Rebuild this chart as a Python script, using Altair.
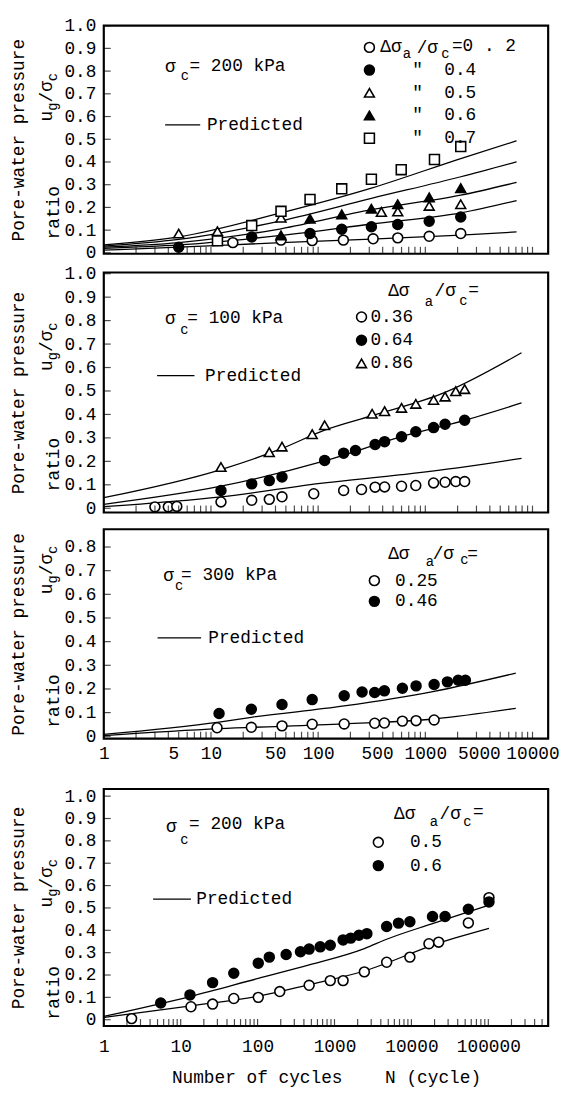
import altair as alt
import pandas as pd

FONT = "Liberation Mono"
FS = 18
SUB = 14
CW = 0.6 * FS

# ---------------- Panel 1 : sigma_c = 200 kPa ----------------
p1_order = ["0.2", "0.4", "0.5", "0.6", "0.7"]
p1_s02_N = [16, 45, 88, 172, 326, 553, 1087, 2140]
p1_s02_u = [0.045, 0.056, 0.054, 0.056, 0.062, 0.066, 0.073, 0.085]
p1_s04_N = [5, 24, 84, 166, 314, 553, 1087, 2140]
p1_s04_u = [0.025, 0.07, 0.085, 0.104, 0.115, 0.125, 0.139, 0.158]
p1_s05_N = [5, 11.5, 45, 389, 553, 1087, 2140]
p1_s05_u = [0.085, 0.095, 0.155, 0.18, 0.182, 0.207, 0.214]
p1_s06_N = [45, 84, 166, 314, 553, 1087, 2140]
p1_s06_u = [0.077, 0.15, 0.169, 0.194, 0.214, 0.244, 0.285]
p1_s07_N = [11.5, 24, 45, 84, 166, 314, 596, 1217, 2140]
p1_s07_u = [0.053, 0.12, 0.183, 0.235, 0.282, 0.324, 0.366, 0.411, 0.468]
p1_line_N = [1, 5, 45, 314, 2140, 7100]
p1_line07_u = [0.035, 0.07, 0.176, 0.285, 0.415, 0.493]
p1_line06_u = [0.03, 0.059, 0.141, 0.24, 0.335, 0.401]
p1_line05_u = [0.025, 0.045, 0.106, 0.19, 0.254, 0.31]
p1_line04_u = [0.02, 0.035, 0.077, 0.127, 0.176, 0.23]
p1_line02_u = [0.012, 0.025, 0.045, 0.06, 0.078, 0.092]

# ---------------- Panel 2 : sigma_c = 100 kPa ----------------
p2_order = ["0.36", "0.64", "0.86"]
p2_s036_N = [3, 4, 4.8, 12.4, 24, 35, 46, 91, 173, 254, 340, 417, 600, 815, 1194, 1528, 1923, 2328]
p2_s036_u = [0.006, 0.006, 0.008, 0.027, 0.034, 0.038, 0.049, 0.062, 0.076, 0.08, 0.09, 0.091, 0.094, 0.097, 0.108, 0.111, 0.114, 0.114]
p2_s064_N = [12.4, 24, 35, 46, 115, 173, 223, 340, 417, 600, 815, 1194, 1528, 2328]
p2_s064_u = [0.076, 0.104, 0.118, 0.133, 0.204, 0.235, 0.246, 0.272, 0.284, 0.305, 0.326, 0.344, 0.358, 0.375]
p2_s086_N = [12.4, 35, 46, 88, 115, 319, 417, 600, 815, 1194, 1528, 1923, 2328]
p2_s086_u = [0.176, 0.239, 0.263, 0.316, 0.354, 0.403, 0.414, 0.428, 0.445, 0.462, 0.476, 0.499, 0.508]
p2_line086_N = [1, 12.4, 46, 115, 319, 1528, 7900]
p2_line086_u = [0.045, 0.165, 0.255, 0.333, 0.395, 0.494, 0.663]
p2_line_N = [1, 12.4, 115, 600, 2328, 7900]
p2_line064_u = [0.017, 0.094, 0.202, 0.305, 0.375, 0.449]
p2_line036_u = [0.007, 0.049, 0.108, 0.143, 0.176, 0.213]

# ---------------- Panel 3 : sigma_c = 300 kPa ----------------
p3_order = ["0.25", "0.46"]
p3_s025_N = [11.4, 23.8, 46, 88, 175, 337, 415, 611, 820, 1208]
p3_s025_u = [0.036, 0.038, 0.044, 0.051, 0.052, 0.055, 0.056, 0.064, 0.066, 0.069]
p3_s046_N = [11.9, 23.8, 46, 88, 175, 257, 337, 415, 611, 820, 1208, 1607, 2027, 2366]
p3_s046_u = [0.096, 0.114, 0.134, 0.155, 0.171, 0.187, 0.185, 0.192, 0.203, 0.213, 0.219, 0.23, 0.237, 0.237]
p3_line046_N = [1, 11.9, 23.8, 175, 1208, 6980]
p3_line046_u = [0.008, 0.06, 0.08, 0.128, 0.19, 0.267]
p3_line025_N = [1, 11.9, 175, 1208, 6980]
p3_line025_u = [0.003, 0.032, 0.052, 0.073, 0.118]

# ---------------- Panel 4 : sigma_c = 200 kPa (long test) ----------------
p4_order = ["0.5", "0.6"]
p4_s05_N = [2.3, 13.6, 26, 49, 102, 194, 468, 881, 1294, 2443, 4764, 9550, 16900, 22600, 55000, 102000]
p4_s05_u = [0.005, 0.058, 0.07, 0.095, 0.1, 0.126, 0.154, 0.175, 0.175, 0.214, 0.257, 0.28, 0.34, 0.347, 0.433, 0.546]
p4_s06_N = [5.5, 13.2, 26, 49, 102, 142, 235, 361, 468, 652, 881, 1294, 1627, 2080, 2636, 4764, 6790, 9550, 18800, 27400, 55000, 102000]
p4_s06_u = [0.075, 0.111, 0.166, 0.208, 0.253, 0.28, 0.292, 0.304, 0.316, 0.326, 0.333, 0.357, 0.365, 0.378, 0.385, 0.417, 0.432, 0.438, 0.462, 0.462, 0.494, 0.527]
p4_line06_N = [1, 13.6, 102, 468, 2443, 4764, 18800, 102000]
p4_line06_u = [0.015, 0.105, 0.185, 0.245, 0.318, 0.36, 0.43, 0.513]
p4_line05_N = [1, 13.6, 102, 468, 2443, 22600, 102000]
p4_line05_u = [0.01, 0.062, 0.105, 0.157, 0.218, 0.343, 0.409]

# ---------------- axis ticks / labels ----------------
y_ticks_10 = [0, 0.1, 0.2, 0.3, 0.4, 0.5, 0.6, 0.7, 0.8, 0.9, 1.0]
y_ticks_08 = [0, 0.1, 0.2, 0.3, 0.4, 0.5, 0.6, 0.7, 0.8]
x_labels_a = [1, 5, 10, 50, 100, 500, 1000, 5000, 10000]
x_labels_b = [1, 10, 100, 1000, 10000, 100000]
x_minor_a = [m * 10 ** d for d in range(5) for m in range(1, 10) if m * 10 ** d <= 10000]
x_minor_b = [m * 10 ** d for d in range(6) for m in range(1, 10) if m * 10 ** d <= 500000]


def pts_frame(groups):
    rows = []
    for name, ns, us in groups:
        for n, u in zip(ns, us):
            rows.append({"N": n, "u": u, "s": name})
    return pd.DataFrame(rows)


def lines_frame(groups):
    rows = []
    for name, ns, us in groups:
        for n, u in zip(ns, us):
            rows.append({"N": n, "u": u, "c": name})
    return pd.DataFrame(rows)


ONE = pd.DataFrame({"k": [0]})
NB = "\u00a0"
ZW = "\u200b"


def txt(s, x, y, size=FS, angle=0, align="left"):
    return alt.Chart(ONE).mark_text(
        text=s, font=FONT, fontSize=size, align=align, baseline="middle",
        angle=angle, color="black"
    ).encode(x=alt.value(x), y=alt.value(y))


def seg_rule(x1, x2, y):
    return alt.Chart(ONE).mark_rule(color="black", strokeWidth=1.3).encode(
        x=alt.value(x1), x2=alt.value(x2), y=alt.value(y))


def y_title_pieces(H, f_ug, f_ratio):
    y0 = f_ug * H
    return [
        txt("ratio", -50, f_ratio * H, angle=270, align="center"),
        txt("u", -57, y0, angle=270),
        txt("g", -51, y0 - CW, size=SUB, angle=270),
        txt("/σ", -57, y0 - CW - 0.6 * SUB, angle=270),
        txt("c", -51, y0 - 3 * CW - 0.6 * SUB, size=SUB, angle=270),
    ]


def sigma_note(W, H, fx, fy, fxc, fyc, fxr, fyr, rest):
    return [txt("σ", fx * W, fy * H), txt("c", fxc * W, fyc * H, size=SUB),
            txt(rest, fxr * W, fyr * H)]


def predicted(W, H, fx1, fx2, fy, fxt):
    return [seg_rule(fx1 * W, fx2 * W, fy * H), txt("Predicted", fxt * W, fy * H)]


def header(x_d, x_a, x_s, x_c, x_e, y, y_a, y_c, y_e, eq="="):
    return [txt("Δσ", x_d, y), txt("a", x_a, y_a, size=SUB),
            txt("/σ", x_s, y), txt("c", x_c, y_c, size=SUB),
            txt(eq, x_e, y_e)]


def panel(W, H, xdom, ydom, yvals, xminor, ldf, pdf, order, shapes, fills,
          leg, xaxis, extras):
    xs = alt.Scale(type="log", domain=xdom, nice=False)
    ys = alt.Scale(domain=ydom, nice=False, zero=False)
    yaxis = alt.Axis(
        values=yvals,
        labelExpr="datum.value == 0 ? '0' : format(datum.value, '.1f')",
        ticks=False, domain=False, grid=False, labelFont=FONT,
        labelFontSize=FS, labelColor="black", labelPadding=8,
        title="Pore-water pressure", titleFont=FONT, titleFontSize=FS,
        titleFontWeight="normal", titleColor="black", titleAngle=270,
        titleX=-86, titleY=H / 2, titleAlign="center", titleBaseline="middle")
    X = alt.X("N:Q", scale=xs, axis=xaxis)
    Y = alt.Y("u:Q", scale=ys, axis=yaxis)
    lines = alt.Chart(ldf).mark_line(
        color="black", strokeWidth=1.3, interpolate="monotone"
    ).encode(x=X, y=Y, detail="c:N")
    pts = alt.Chart(pdf).mark_point(
        size=100, strokeWidth=1.6, opacity=1, fillOpacity=1
    ).encode(
        x=X, y=Y,
        shape=alt.Shape("s:N", scale=alt.Scale(domain=order, range=shapes), legend=leg),
        fill=alt.Fill("s:N", scale=alt.Scale(domain=order, range=fills), legend=leg),
        stroke=alt.Stroke("s:N", scale=alt.Scale(domain=order, range=["black"] * len(order)),
                          legend=leg),
    )
    xt = alt.Chart(pd.DataFrame({"N": xminor})).mark_tick(
        orient="vertical", size=7, thickness=1.2, color="black", yOffset=-3.5
    ).encode(x=X, y=alt.Y(datum=ydom[0], type="quantitative", scale=ys, axis=yaxis))
    yt = alt.Chart(pd.DataFrame({"u": yvals})).mark_tick(
        orient="horizontal", size=7, thickness=1.2, color="black", xOffset=3.5
    ).encode(y=Y, x=alt.X(datum=xdom[0], type="quantitative", scale=xs, axis=xaxis))
    return alt.layer(lines, pts, xt, yt, *extras).properties(width=W, height=H)


def legend(lx, ly, rp, label_x, expr=None):
    kw = dict(orient="none", legendX=lx, legendY=ly, title=None, labelFont=FONT,
              labelFontSize=FS, labelColor="black", symbolSize=100,
              symbolStrokeWidth=1.6, rowPadding=rp,
              labelOffset=label_x - lx - 16, padding=0, labelLimit=400,
              symbolOpacity=1)
    if expr is not None:
        kw["labelExpr"] = expr
    return alt.Legend(**kw)


W = 450

# ---- panel 1
H1 = 231
r1 = 23  # first legend row centre
L1 = 278  # legend text start
p1 = panel(
    W, H1, [1, 14000], [-0.004, 1.0], y_ticks_10, x_minor_a,
    lines_frame([("l07", p1_line_N, p1_line07_u), ("l06", p1_line_N, p1_line06_u),
                 ("l05", p1_line_N, p1_line05_u), ("l04", p1_line_N, p1_line04_u),
                 ("l02", p1_line_N, p1_line02_u)]),
    pts_frame([("0.2", p1_s02_N, p1_s02_u), ("0.4", p1_s04_N, p1_s04_u),
               ("0.5", p1_s05_N, p1_s05_u), ("0.6", p1_s06_N, p1_s06_u),
               ("0.7", p1_s07_N, p1_s07_u)]),
    p1_order, ["circle", "circle", "triangle-up", "triangle-up", "square"],
    ["white", "black", "white", "black", "white"],
    legend(260, 13, 5, L1,
           "datum.label == '0.2' ? 'Δσ' : '"
           + ZW + NB * 3 + '"' + NB * 2 + "' + datum.label"),
    None,
    y_title_pieces(H1, 0.42, 0.82)
    + sigma_note(W, H1, 0.138, 0.18, 0.173, 0.222, 0.193, 0.176, "= 200 kPa")
    + predicted(W, H1, 0.138, 0.217, 0.435, 0.232)
    + [txt("a", L1 + 2.3 * CW, r1 + 6, size=SUB),
       txt("/σ", L1 + 3.6 * CW, r1), txt("c", L1 + 5.9 * CW, r1 + 6, size=SUB),
       txt("=0" + NB + "." + NB + "2", L1 + 6.9 * CW, r1 - 2)],
)

# ---- panel 2
H2 = 243
p2 = panel(
    W, H2, [1, 14000], [-0.018, 1.005], y_ticks_10, x_minor_a,
    lines_frame([("l086", p2_line086_N, p2_line086_u), ("l064", p2_line_N, p2_line064_u),
                 ("l036", p2_line_N, p2_line036_u)]),
    pts_frame([("0.36", p2_s036_N, p2_s036_u), ("0.64", p2_s064_N, p2_s064_u),
               ("0.86", p2_s086_N, p2_s086_u)]),
    p2_order, ["circle", "circle", "triangle-up"], ["white", "black", "white"],
    legend(252, 36, 5.5, 268),
    None,
    y_title_pieces(H2, 0.41, 0.80)
    + sigma_note(W, H2, 0.138, 0.192, 0.172, 0.238, 0.188, 0.19, "= 100 kPa")
    + predicted(W, H2, 0.12, 0.204, 0.43, 0.228)
    + header(288, 325, 335, 360, 369, 19, 30, 29, 18),
)

# ---- panel 3
H3 = 212
x3_axis = alt.Axis(
    values=x_labels_a, format="d", labelFont=FONT, labelFontSize=FS,
    labelColor="black", labelPadding=6, labelFlush=False, labelOverlap=False,
    ticks=False, domain=False, grid=False,
    labelAlign={"condition": {"test": "indexof([5, 50, 500, 5000], datum.value) >= 0",
                              "value": "right"}, "value": "center"},
    title=NB, titleFontSize=FS, titlePadding=4)
p3 = panel(
    W, H3, [1, 14000], [-0.01, 0.875], y_ticks_08, x_minor_a,
    lines_frame([("l046", p3_line046_N, p3_line046_u), ("l025", p3_line025_N, p3_line025_u)]),
    pts_frame([("0.25", p3_s025_N, p3_s025_u), ("0.46", p3_s046_N, p3_s046_u)]),
    p3_order, ["circle", "circle"], ["white", "black"],
    legend(265, 43, 3, 293),
    x3_axis,
    y_title_pieces(H3, 0.31, 0.82)
    + sigma_note(W, H3, 0.134, 0.225, 0.16, 0.271, 0.174, 0.22, "= 300 kPa")
    + predicted(W, H3, 0.121, 0.219, 0.519, 0.235)
    + header(288, 326, 333, 361, 368, 25, 33, 31, 25),
).properties(title=alt.TitleParams(text=NB, fontSize=7, offset=2))

# ---- panel 4
H4 = 240
x4_axis = alt.Axis(
    values=x_labels_b, format="d", labelFont=FONT, labelFontSize=FS,
    labelColor="black", labelPadding=12, labelFlush=False, labelOverlap=False,
    ticks=False, domain=False, grid=False,
    title="Number of cycles" + NB * 3 + " N (cycle)", titleFont=FONT,
    titleFontSize=FS, titleFontWeight="normal", titleColor="black", titlePadding=13)
p4 = panel(
    W, H4, [1, 600000], [-0.028, 1.032], y_ticks_10, x_minor_b,
    lines_frame([("l06", p4_line06_N, p4_line06_u), ("l05", p4_line05_N, p4_line05_u)]),
    pts_frame([("0.5", p4_s05_N, p4_s05_u), ("0.6", p4_s06_N, p4_s06_u)]),
    p4_order, ["circle", "circle"], ["white", "black"],
    legend(269, 45, 5.6, 308),
    x4_axis,
    y_title_pieces(H4, 0.5, 0.86)
    + sigma_note(W, H4, 0.14, 0.162, 0.172, 0.217, 0.192, 0.148, "= 200 kPa")
    + predicted(W, H4, 0.111, 0.196, 0.465, 0.208)
    + header(294, 330, 340, 364, 374, 25, 33, 33, 23),
)

chart = (
    alt.vconcat(p1, p2, p3, p4, spacing=0)
    .resolve_scale(x="independent", y="independent", shape="independent",
                   fill="independent", stroke="independent")
    .resolve_legend(shape="independent", fill="independent", stroke="independent")
    .properties(padding={"left": 0, "top": 0, "right": 0, "bottom": 0})
    .configure(font=FONT)
    .configure_view(stroke="black", strokeWidth=2.2)
)

chart.save("out.html", embed_options={"renderer": "svg", "actions": False})
